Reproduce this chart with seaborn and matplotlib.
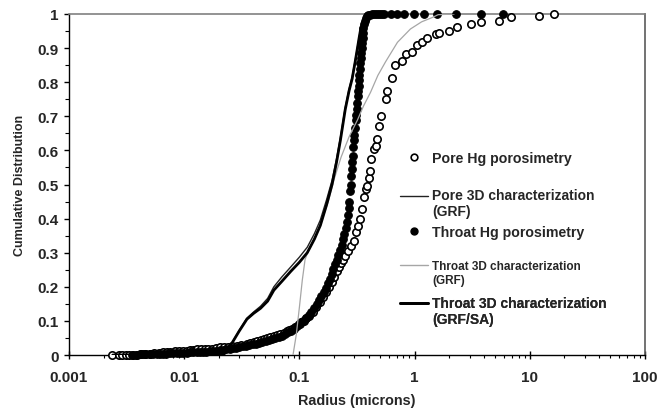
import matplotlib
matplotlib.use("Agg")
import matplotlib.pyplot as plt
from matplotlib.lines import Line2D
from matplotlib.ticker import FixedLocator, FuncFormatter, LogLocator, NullFormatter
import seaborn as sns

# Pore-throat size distributions: mercury porosimetry vs 3D reconstruction
pore_hg_x = [0.00235, 0.0027, 0.0029, 0.0031, 0.0033, 0.0036, 0.0039, 0.0042, 0.0046, 0.0050,
             0.0055, 0.0060, 0.0066, 0.0071, 0.0076, 0.0083, 0.0090, 0.0098, 0.0105, 0.0113,
             0.0120, 0.0125, 0.0129, 0.0140, 0.0152, 0.0162, 0.0175, 0.0190, 0.0205, 0.0220,
             0.0240, 0.0260, 0.0287, 0.0310, 0.0350, 0.0375, 0.0400, 0.0430, 0.0460, 0.0490,
             0.0520, 0.0560, 0.0600, 0.0640, 0.0680, 0.0730, 0.0780, 0.0820, 0.0860, 0.0920,
             0.0986, 0.1040, 0.1090, 0.1150, 0.1200, 0.1300, 0.1400, 0.1500, 0.1600, 0.1700,
             0.1800, 0.1900, 0.2000, 0.2100, 0.2200, 0.2300, 0.2400, 0.2500, 0.2650, 0.2800,
             0.2950, 0.3100, 0.3250, 0.3390, 0.3500, 0.3630, 0.3750, 0.3830, 0.4000, 0.4140,
             0.4200, 0.4450, 0.4580, 0.4740, 0.4950, 0.5060, 0.5600, 0.5800, 0.6400, 0.6800,
             0.7800, 0.8360, 0.9550, 1.0500, 1.1700, 1.2900, 1.5200, 1.6300, 1.9900, 2.3200,
             3.0700, 3.7500, 5.4000, 6.8000, 12.000, 16.300]
pore_hg_y = [0.000, 0.000, 0.000, 0.000, 0.000, 0.001, 0.001, 0.002, 0.003, 0.004,
             0.005, 0.007, 0.009, 0.009, 0.010, 0.011, 0.012, 0.012, 0.013, 0.015,
             0.015, 0.016, 0.017, 0.017, 0.017, 0.018, 0.019, 0.020, 0.022, 0.023,
             0.024, 0.025, 0.026, 0.028, 0.032, 0.035, 0.037, 0.040, 0.043, 0.047,
             0.049, 0.052, 0.055, 0.058, 0.061, 0.065, 0.069, 0.072, 0.076, 0.083,
             0.091, 0.096, 0.101, 0.108, 0.114, 0.126, 0.140, 0.155, 0.170, 0.185,
             0.200, 0.215, 0.230, 0.245, 0.258, 0.270, 0.280, 0.290, 0.305, 0.320,
             0.335, 0.360, 0.378, 0.400, 0.428, 0.462, 0.487, 0.495, 0.518, 0.540,
             0.575, 0.605, 0.612, 0.633, 0.672, 0.700, 0.751, 0.775, 0.812, 0.850,
             0.863, 0.883, 0.889, 0.909, 0.917, 0.929, 0.941, 0.944, 0.951, 0.961,
             0.971, 0.978, 0.980, 0.990, 0.993, 1.000]

throat_hg_x = [0.0035, 0.0038, 0.0041, 0.0044, 0.0047, 0.0050, 0.0054, 0.0058, 0.0062, 0.0066,
               0.0070, 0.0075, 0.0080, 0.0086, 0.0092, 0.0098, 0.0105, 0.0112, 0.0120, 0.0128,
               0.0137, 0.0146, 0.0156, 0.0167, 0.0178, 0.0190, 0.0203, 0.0217, 0.0232, 0.0248,
               0.0265, 0.0283, 0.0302, 0.0323, 0.0345, 0.0368, 0.0393, 0.0420, 0.0448, 0.0478,
               0.0510, 0.0545, 0.0580, 0.0620, 0.0660, 0.0705, 0.0750, 0.0800, 0.0850, 0.0900,
               0.0960, 0.1020, 0.1080, 0.1140, 0.1200, 0.1270, 0.1340, 0.1410, 0.1480, 0.1550,
               0.1620, 0.1690, 0.1760, 0.1830, 0.1900, 0.1970, 0.2040, 0.2110, 0.2180, 0.2250,
               0.2320, 0.2390, 0.2460, 0.2530, 0.2590, 0.2650, 0.2700,
               0.2720, 0.2760, 0.2790, 0.2820, 0.2850, 0.2880, 0.2910, 0.2940, 0.2970, 0.3000,
               0.3040, 0.3080, 0.3110, 0.3140, 0.3170, 0.3200, 0.3230, 0.3260, 0.3290, 0.3320,
               0.3350, 0.3380, 0.3410, 0.3440, 0.3470, 0.3500, 0.3530, 0.3560, 0.3600, 0.3650,
               0.3700, 0.3780, 0.3870, 0.3970, 0.4100, 0.4250, 0.4400, 0.4600, 0.4800, 0.5000,
               0.5200, 0.5400, 0.6200, 0.7100, 0.8100, 0.9900, 1.2000, 1.5700, 2.2700, 3.7500,
               5.8000]
throat_hg_y = [0.001, 0.001, 0.0015, 0.0015, 0.002, 0.002, 0.0025, 0.003, 0.003, 0.0035,
               0.004, 0.0045, 0.005, 0.0055, 0.006, 0.0065, 0.007, 0.0075, 0.008, 0.0085,
               0.009, 0.0095, 0.010, 0.011, 0.012, 0.013, 0.014, 0.015, 0.017, 0.018,
               0.020, 0.021, 0.023, 0.025, 0.027, 0.029, 0.031, 0.033, 0.035, 0.038,
               0.040, 0.043, 0.046, 0.049, 0.053, 0.057, 0.061, 0.066, 0.071, 0.077,
               0.084, 0.092, 0.100, 0.108, 0.117, 0.127, 0.138, 0.149, 0.160, 0.172,
               0.184, 0.197, 0.210, 0.224, 0.238, 0.252, 0.266, 0.280, 0.294, 0.309,
               0.324, 0.340, 0.356, 0.373, 0.390, 0.410, 0.430,
               0.450, 0.480, 0.500, 0.525, 0.545, 0.565, 0.585, 0.610, 0.630, 0.645,
               0.665, 0.690, 0.705, 0.720, 0.740, 0.760, 0.775, 0.790, 0.805, 0.820,
               0.840, 0.855, 0.870, 0.885, 0.900, 0.915, 0.930, 0.945, 0.958, 0.970,
               0.980, 0.988, 0.993, 0.996, 0.998, 0.999, 1.000, 1.000, 1.000, 1.000,
               1.000, 1.000, 1.000, 1.000, 1.000, 1.000, 1.000, 1.000, 1.000, 1.000,
               1.000]

pore_grf_x = [0.0218, 0.026, 0.030, 0.035, 0.040, 0.046, 0.053, 0.060, 0.070, 0.084,
              0.100, 0.117, 0.135, 0.152, 0.172, 0.192, 0.210, 0.227, 0.250, 0.270,
              0.287, 0.305, 0.318, 0.330, 0.340, 0.355, 0.380, 0.420, 0.500]
pore_grf_y = [0.000, 0.036, 0.072, 0.108, 0.126, 0.143, 0.166, 0.200, 0.228, 0.258,
              0.287, 0.316, 0.356, 0.396, 0.455, 0.512, 0.575, 0.638, 0.726, 0.780,
              0.815, 0.864, 0.900, 0.932, 0.956, 0.976, 0.990, 0.998, 1.000]

throat_grf_x = [0.088, 0.094, 0.100, 0.106, 0.112, 0.118, 0.135, 0.155, 0.178, 0.200,
                0.230, 0.270, 0.320, 0.360, 0.414, 0.480, 0.560, 0.710, 0.920, 1.150,
                1.430, 1.600, 2.200]
throat_grf_y = [0.000, 0.060, 0.140, 0.220, 0.280, 0.300, 0.340, 0.390, 0.450, 0.515,
                0.580, 0.640, 0.690, 0.730, 0.770, 0.820, 0.860, 0.917, 0.956, 0.977,
                0.990, 0.998, 1.000]

throat_sa_x = [0.0024, 0.0218, 0.026, 0.030, 0.035, 0.040, 0.046, 0.053, 0.060, 0.070,
               0.084, 0.100, 0.117, 0.135, 0.152, 0.172, 0.192, 0.210, 0.227, 0.250,
               0.270, 0.287, 0.305, 0.318, 0.330, 0.340, 0.355, 0.380, 0.420, 0.500]
throat_sa_y = [0.000, 0.000, 0.035, 0.070, 0.105, 0.122, 0.137, 0.158, 0.190, 0.215,
               0.245, 0.272, 0.300, 0.340, 0.380, 0.440, 0.500, 0.565, 0.630, 0.720,
               0.775, 0.810, 0.860, 0.897, 0.930, 0.955, 0.975, 0.990, 0.998, 1.000]

x_ticks = [0.001, 0.01, 0.1, 1, 10, 100]
y_ticks = [0, 0.1, 0.2, 0.3, 0.4, 0.5, 0.6, 0.7, 0.8, 0.9, 1]
y_minor = [0.05, 0.15, 0.25, 0.35, 0.45, 0.55, 0.65, 0.75, 0.85, 0.95]

legend_labels = ["Pore Hg porosimetry",
                 "Pore 3D characterization\n(GRF)",
                 "Throat Hg porosimetry",
                 "Throat 3D characterization\n(GRF)",
                 "Throat 3D characterization\n(GRF/SA)"]

sns.set_theme(style="white")
plt.rcParams["font.family"] = ["Liberation Sans", "DejaVu Sans"]
plt.rcParams["font.weight"] = "bold"

W, H = 659, 414
fig = plt.figure(figsize=(W / 100, H / 100), dpi=100)
L, R, T, B = 69, 645, 15, 356
ax = fig.add_axes([L / W, 1 - B / H, (R - L) / W, (B - T) / H])
ax.set_xscale("log")
ax.set_xlim(0.001, 100)
ax.set_ylim(0, 1)

GRAY = "#a6a6a6"

# mercury porosimetry points
sns.scatterplot(x=pore_hg_x, y=pore_hg_y, ax=ax, marker="o", s=28, color="white",
                edgecolor="black", linewidth=1.2, clip_on=False, zorder=3, legend=False)
sns.scatterplot(x=throat_hg_x, y=throat_hg_y, ax=ax, marker="o", s=30, color="black",
                edgecolor="black", linewidth=0.8, clip_on=False, zorder=4, legend=False)

# 3D characterization curves
sns.lineplot(x=throat_grf_x, y=throat_grf_y, ax=ax, sort=False, estimator=None,
             color=GRAY, linewidth=0.9, zorder=5, legend=False)
sns.lineplot(x=pore_grf_x, y=pore_grf_y, ax=ax, sort=False, estimator=None,
             color="#222222", linewidth=1.0, zorder=6, legend=False)
sns.lineplot(x=throat_sa_x, y=throat_sa_y, ax=ax, sort=False, estimator=None,
             color="black", linewidth=2.0, zorder=7, legend=False)

# axes styling
for side in ("left", "bottom"):
    ax.spines[side].set_color("black")
    ax.spines[side].set_linewidth(1.0)
ax.spines["top"].set_color("#808080")
ax.spines["top"].set_linewidth(1.2)
ax.spines["right"].set_color("#5a5a5a")
ax.spines["right"].set_linewidth(1.2)

ax.xaxis.set_major_locator(FixedLocator(x_ticks))
ax.xaxis.set_minor_locator(LogLocator(base=10, subs=range(2, 10), numticks=20))
ax.xaxis.set_minor_formatter(NullFormatter())
ax.xaxis.set_major_formatter(FuncFormatter(lambda v, p: f"{v:g}"))
ax.yaxis.set_major_locator(FixedLocator(y_ticks))
ax.yaxis.set_minor_locator(FixedLocator(y_minor))
ax.yaxis.set_major_formatter(FuncFormatter(lambda v, p: f"{v:g}"))

ax.tick_params(axis="x", which="major", direction="inout", length=6, width=1,
               color="black", labelsize=11, pad=7.5, bottom=True)
ax.tick_params(axis="x", which="minor", direction="out", length=2.5, width=0.8,
               color="black", bottom=True)
ax.tick_params(axis="y", which="major", direction="out", length=3.5, width=1,
               color="black", labelsize=11, pad=4, left=True)
ax.tick_params(axis="y", which="minor", direction="out", length=3, width=0.8,
               color="black", left=True)
for lab in ax.get_xticklabels() + ax.get_yticklabels():
    lab.set_fontweight("bold")

ax.set_xlabel("Radius (microns)", fontsize=10.4, fontweight="bold", labelpad=7)
ax.set_ylabel("Cumulative Distribution", fontsize=9, fontweight="bold", labelpad=8)

# legend, one block per series
handles = [
    Line2D([], [], linestyle="none", marker="o", markersize=4.8, markerfacecolor="white",
           markeredgecolor="black", markeredgewidth=1.2),
    Line2D([], [], color="#222222", linewidth=1.0),
    Line2D([], [], linestyle="none", marker="o", markersize=5, markerfacecolor="black",
           markeredgecolor="black"),
    Line2D([], [], color=GRAY, linewidth=1.0),
    Line2D([], [], color="black", linewidth=2.0),
]
# first-line centre and second-line centre (pixels from top) and font size
rows = [(159, None, 10.2), (196, 212.7, 10), (232.7, None, 10.2), (266, 281.7, 8.5),
        (303.3, 320, 10)]
x_anchor = (400 - L) / (R - L)
for h, lab, (y1, y2, fs) in zip(handles, legend_labels, rows):
    yc = y1 if y2 is None else 0.5 * (y1 + y2)
    leg = ax.legend([h], [lab], loc="center left",
                    bbox_to_anchor=(x_anchor, (B - yc) / (B - T)),
                    frameon=False, borderpad=0, borderaxespad=0,
                    handlelength=28 / (fs * 100 / 72), handletextpad=4 / (fs * 100 / 72),
                    prop={"weight": "bold", "size": fs})
    if y2 is not None:
        shift = 0.5 * (y2 - y1) * 72 / 100
        hl = leg.legend_handles[0]
        hl.set_ydata([v + shift for v in hl.get_ydata()])
    ax.add_artist(leg)

fig.savefig("out.png", dpi=100)
